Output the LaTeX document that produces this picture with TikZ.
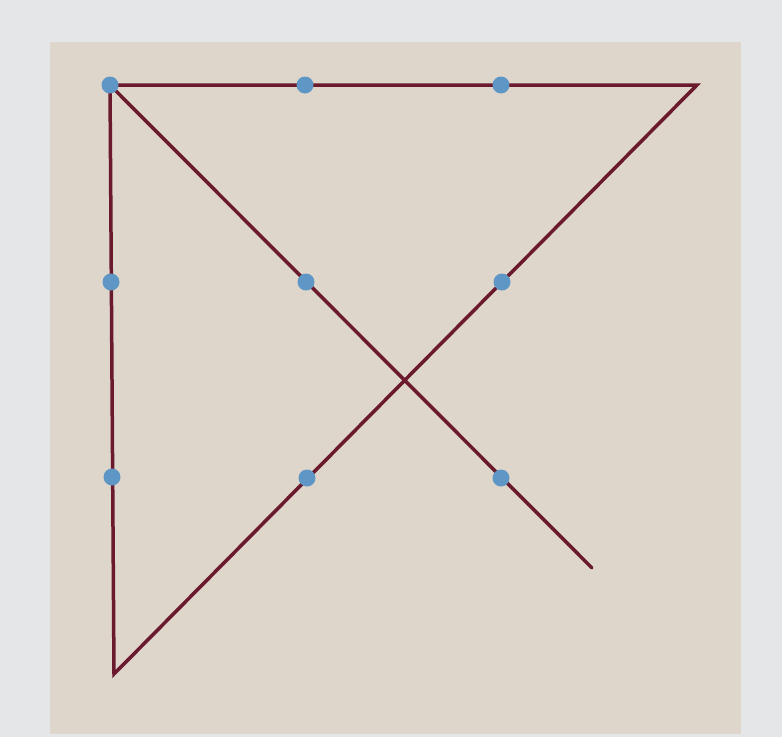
\documentclass[tikz,border=0pt]{standalone}
\begin{document}
\begin{tikzpicture}[x=1pt,y=-1pt,
  puzzleline/.style={draw=lineRed,line width=3.5pt,line join=miter,line cap=round},
  dot/.style={circle,fill=dotBlue,inner sep=0pt,minimum size=17pt}]
\definecolor{outerGray}{HTML}{E4E6E8}
\definecolor{panel}{HTML}{DED6CB}
\definecolor{lineRed}{HTML}{6A1A2C}
\definecolor{dotBlue}{HTML}{5E96C6}
\useasboundingbox (0,0) rectangle (782,737);
\fill[outerGray] (0,0) rectangle (782,737);
\fill[panel] (50,42) rectangle (741,734);
% vertices
\coordinate (tl) at (110,85);
\coordinate (tr) at (697,85);
\coordinate (bl) at (114,674);
\coordinate (end) at (592,568);
% lines
\draw[puzzleline] (end) -- (tl) -- (tr) -- (bl) -- (tl);
% dots
\node[dot] (d11) at (110,85) {};
\node[dot] (d12) at (305,85) {};
\node[dot] (d13) at (501,85) {};
\node[dot] (d21) at (111,282) {};
\node[dot] (d22) at (306,282) {};
\node[dot] (d23) at (502,282) {};
\node[dot] (d31) at (112,477) {};
\node[dot] (d32) at (307,478) {};
\node[dot] (d33) at (501,478) {};
\end{tikzpicture}
\end{document}
